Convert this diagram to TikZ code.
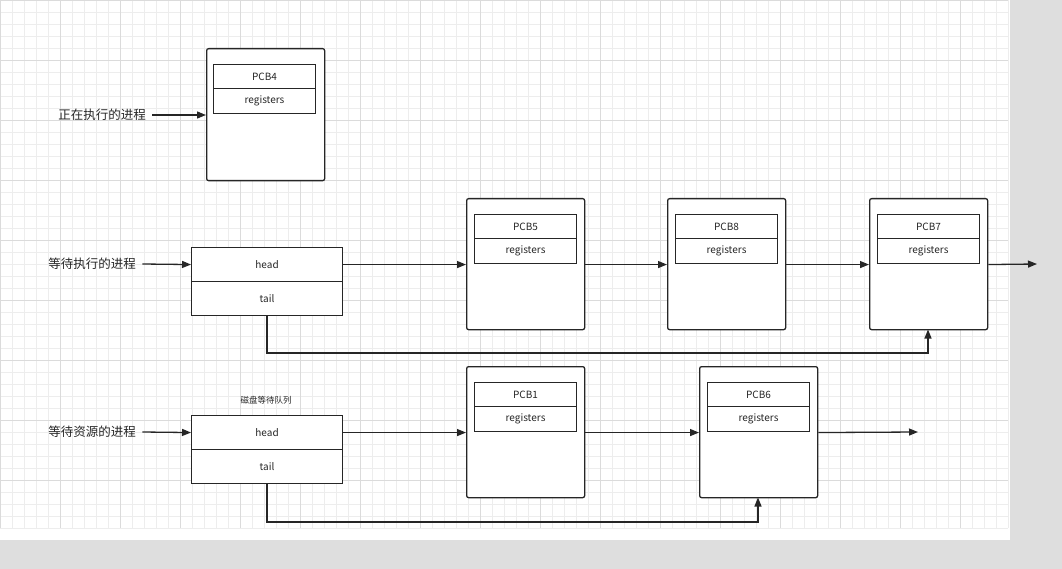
\documentclass[tikz,border=0pt]{standalone}
\usepackage{fontspec}
\setmainfont{Noto Sans CJK SC}
\usetikzlibrary{arrows.meta}
\begin{document}
\begin{tikzpicture}[x=1pt,y=-1pt,
  outer/.style={draw=black!85,line width=1.3pt,rounded corners=2pt,fill=white},
  cell/.style={draw=black!85,line width=1.1pt,fill=white},
  lbl/.style={font=\fontsize{12.5}{14}\selectfont,text=black!85},
  txt/.style={font=\fontsize{10}{11}\selectfont,text=black!85},
  arr/.style={draw=black!85,line width=1.3pt,-{Triangle[length=9pt,width=7pt]}}]
\useasboundingbox (0,0) rectangle (1062,569);
\fill[black!13] (0,0) rectangle (1062,569);
\fill[white] (0,0) rectangle (1010,540);
\foreach \k in {0,...,84}{\draw[black!7,line width=0.6pt] (\k*12,0)--(\k*12,528);}
\foreach \k in {0,...,44}{\draw[black!7,line width=0.6pt] (0,\k*12)--(1008,\k*12);}
\foreach \k in {0,5,...,80}{\draw[black!14,line width=0.6pt] (\k*12,0)--(\k*12,528);}
\foreach \k in {0,5,...,40}{\draw[black!14,line width=0.6pt] (0,\k*12)--(1008,\k*12);}
% PCB4
\node[outer,minimum width=118,minimum height=132,anchor=north west] (o4) at (206,48) {};
\node[cell,minimum width=102,minimum height=24,anchor=north west,txt] (p4) at (213,64) {PCB4};
\node[cell,minimum width=102,minimum height=25,anchor=north west,txt] (r4) at (213,88) {registers};
\node[lbl] (l1) at (102,115) {正在执行的进程};
\draw[arr] (l1.east)++(3,0) -- (o4.west|-l1);
% queue 1
\node[cell,minimum width=151,minimum height=34,anchor=north west,txt] (h1) at (191,247) {head};
\node[cell,minimum width=151,minimum height=34,anchor=north west,txt] (t1) at (191,281) {tail};
\node[lbl] (l2) at (92,264) {等待执行的进程};
\draw[arr] (l2.east)++(3,0) -- (h1.west);
\foreach \n/\x/\lab in {5/466/PCB5,8/667/PCB8,7/869/PCB7}{
  \node[outer,minimum width=118,minimum height=131,anchor=north west] (o\n) at (\x,198) {};
  \node[cell,minimum width=102,minimum height=24,anchor=north west,txt] (p\n) at (\x+8,214) {\lab};
  \node[cell,minimum width=102,minimum height=25,anchor=north west,txt] (r\n) at (\x+8,238) {registers};
}
\coordinate (e1) at (1037,264);
\draw[arr] (h1.east) -- (o5.west|-h1);
\draw[arr] (o5.east|-h1) -- (o8.west|-h1);
\draw[arr] (o8.east|-h1) -- (o7.west|-h1);
\draw[arr] (o7.east|-h1) -- (e1);
\draw[arr] (t1.south) |- (928,353) -- (928,329.5);
% queue 2
\node[txt,font=\fontsize{8.5}{10}\selectfont] (cap) at (266,400) {磁盘等待队列};
\node[cell,minimum width=151,minimum height=34,anchor=north west,txt] (h2) at (191,415) {head};
\node[cell,minimum width=151,minimum height=34,anchor=north west,txt] (t2) at (191,449) {tail};
\node[lbl] (l3) at (92,432) {等待资源的进程};
\draw[arr] (l3.east)++(3,0) -- (h2.west);
\foreach \n/\x/\lab in {1/466/PCB1,6/699/PCB6}{
  \node[outer,minimum width=118,minimum height=131,anchor=north west] (o\n) at (\x,366) {};
  \node[cell,minimum width=102,minimum height=24,anchor=north west,txt] (p\n) at (\x+8,382) {\lab};
  \node[cell,minimum width=102,minimum height=25,anchor=north west,txt] (r\n) at (\x+8,406) {registers};
}
\coordinate (e2) at (918,432);
\draw[arr] (h2.east) -- (o1.west|-h2);
\draw[arr] (o1.east|-h2) -- (o6.west|-h2);
\draw[arr] (o6.east|-h2) -- (e2);
\draw[arr] (t2.south) |- (758,522) -- (758,497.5);
\end{tikzpicture}
\end{document}
